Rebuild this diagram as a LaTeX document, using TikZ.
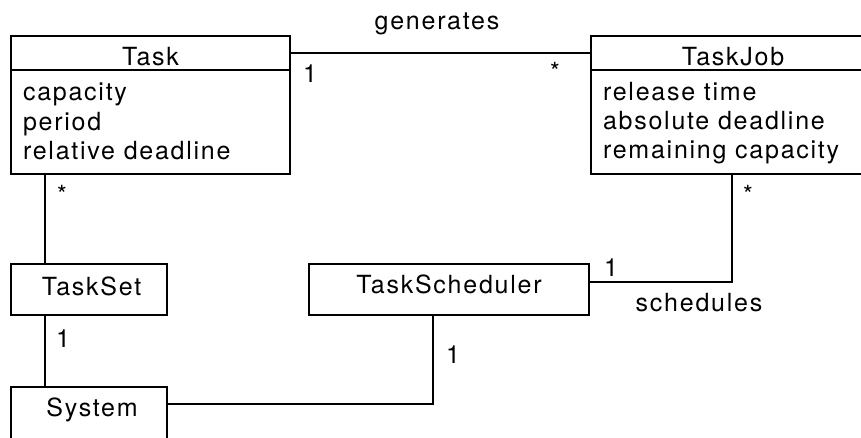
\documentclass[tikz,border=0pt]{standalone}
\usepackage{fontspec}
\setmainfont{TeX Gyre Heros}[LetterSpace=7]
\begin{document}
\begin{tikzpicture}[x=1pt,y=-1pt,
  every node/.style={inner sep=0pt,outer sep=0pt,font=\fontsize{25}{29}\selectfont},
  box/.style={draw,line width=1.6pt,rectangle},
  txt/.style={anchor=base},
  attr/.style={anchor=base west},
  conn/.style={line width=1.6pt}]
\useasboundingbox (0,0) rectangle (861,437);
\clip (0,0) rectangle (861,437);

% Task class
\node[box,minimum width=279pt,minimum height=34pt] (taskhead) at (150.5,53) {};
\node[box,minimum width=279pt,minimum height=104pt] (taskbody) at (150.5,122) {};
\node[txt] (taskname) at (150.5,65) {Task};
\node[attr] (ta1) at (23,100) {capacity};
\node[attr] (ta2) at (23,130) {period};
\node[attr] (ta3) at (23,159) {relative deadline};

% TaskJob class
\node[box,minimum width=284pt,minimum height=34pt] (jobhead) at (733,53) {};
\node[box,minimum width=284pt,minimum height=104pt] (jobbody) at (733,122) {};
\node[txt] (jobname) at (733,65) {TaskJob};
\node[attr] (ja1) at (603,100) {release time};
\node[attr] (ja2) at (603,129) {absolute deadline};
\node[attr] (ja3) at (603,158) {remaining capacity};

% TaskSet, TaskScheduler, System
\node[box,minimum width=156pt,minimum height=51pt] (tset) at (89,289.5) {};
\node[txt] (tsetname) at (91.5,295) {TaskSet};
\node[box,minimum width=280pt,minimum height=51pt] (sched) at (449,289.5) {};
\node[txt] (schedname) at (449,293) {TaskScheduler};
\node[box,minimum width=156pt,minimum height=80pt] (sys) at (89,427) {};
\node[txt] (sysname) at (92,416) {System};

% associations
\draw[conn] (taskhead.east) -- (jobhead.west);
\draw[conn] ([xshift=34pt]taskbody.south west) -- ([xshift=34pt]tset.north west);
\draw[conn] ([xshift=34pt]tset.south west) -- ([xshift=34pt]sys.north west);
\draw[conn] ([yshift=-17pt]sys.north east) -| ([xshift=-16pt]sched.south);
\draw[conn] ([yshift=7.5pt]sched.east) -| ([xshift=-1pt]jobbody.south);

% association labels and multiplicities
\node[txt] (lgen) at (437,29) {generates};
\node[txt] (lsch) at (699,311) {schedules};
\node[txt] (m1) at (310,82) {1};
\node[txt] (m2) at (555,80) {*};
\node[txt] (m3) at (62,203) {*};
\node[txt] (m4) at (748,203) {*};
\node[txt] (m5) at (63,347) {1};
\node[txt] (m6) at (611,276) {1};
\node[txt] (m7) at (453,363) {1};
\end{tikzpicture}
\end{document}
